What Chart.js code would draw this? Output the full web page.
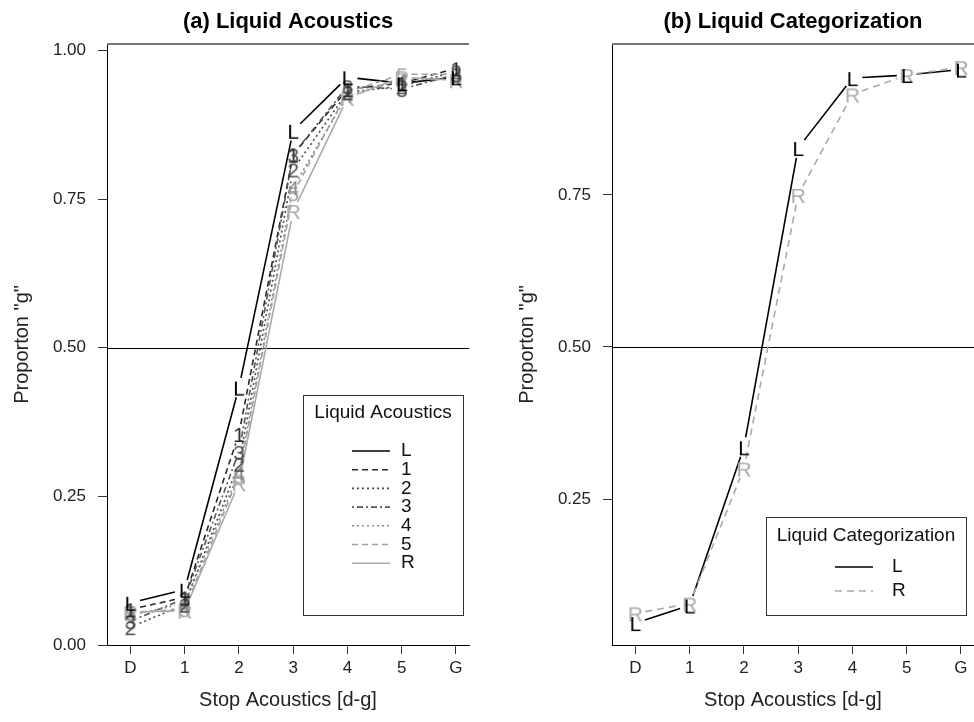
<!DOCTYPE html>
<html>
<head>
<meta charset="utf-8">
<script src="https://cdn.jsdelivr.net/npm/chart.js@4.4.0/dist/chart.umd.min.js"></script>
<style>
  body { margin: 0; background: #fff; width: 974px; height: 722px; overflow: hidden; position: relative; }
  .panel { position: absolute; top: 0; width: 480px; height: 722px; }
</style>
</head>
<body>
<div class="panel" style="left:0"><canvas id="chartA" width="480" height="722"></canvas></div>
<div class="panel" style="left:505px"><canvas id="chartB" width="480" height="722"></canvas></div>
<script>
// stop continuum (x axis)
const steps = ['D', '1', '2', '3', '4', '5', 'G'];

// (a) proportion "g" per liquid acoustics step
const acL = [0.071, 0.093, 0.433, 0.865, 0.955, 0.945, 0.955];
const ac1 = [0.060, 0.080, 0.355, 0.825, 0.935, 0.945, 0.970];
const ac2 = [0.030, 0.068, 0.305, 0.800, 0.930, 0.940, 0.965];
const ac3 = [0.040, 0.078, 0.325, 0.825, 0.940, 0.935, 0.960];
const ac4 = [0.050, 0.070, 0.290, 0.770, 0.925, 0.950, 0.955];
const ac5 = [0.055, 0.060, 0.285, 0.760, 0.930, 0.960, 0.960];
const acR = [0.055, 0.058, 0.272, 0.730, 0.920, 0.955, 0.950];

// (b) proportion "g" per liquid categorization
const catL = [0.046, 0.075, 0.335, 0.827, 0.942, 0.947, 0.956];
const catR = [0.062, 0.078, 0.300, 0.750, 0.915, 0.947, 0.960];

// y tick labels
const ticksA = [0, 0.25, 0.5, 0.75, 1];
const ticksB = [0.25, 0.5, 0.75];
const refLine = 0.5;

Chart.defaults.font.family = "'Liberation Sans', Arial, sans-serif";
Chart.defaults.color = '#222';

// draw the series character as the point symbol
function charPoint(ch, color) {
  const c = document.createElement('canvas');
  c.width = 24; c.height = 24;
  const g = c.getContext('2d');
  g.font = "21px 'Liberation Sans', Arial, sans-serif";
  g.fillStyle = color;
  g.textAlign = 'center';
  g.textBaseline = 'alphabetic';
  g.fillText(ch, 12, 19.5);
  return c;
}

function series(name, values, color, dash) {
  return {
    label: name,
    data: values.map((v, i) => ({ x: i, y: v })),
    borderColor: color,
    backgroundColor: color,
    lineDash: dash,
    showLine: false,
    pointStyle: charPoint(name, color),
    pointRadius: 10,
    pointHoverRadius: 10
  };
}

// lines between points, broken around the characters (like type="b")
const gappedLines = {
  id: 'gappedLines',
  beforeDatasetsDraw(chart) {
    const ctx = chart.ctx, a = chart.chartArea, gap = 10;
    ctx.save();
    ctx.beginPath();
    ctx.rect(a.left, a.top, a.right - a.left, a.bottom - a.top);
    ctx.clip();
    chart.data.datasets.forEach((ds, i) => {
      const pts = chart.getDatasetMeta(i).data;
      ctx.strokeStyle = ds.borderColor;
      ctx.lineWidth = 1.6;
      ctx.setLineDash(ds.lineDash);
      for (let k = 0; k < pts.length - 1; k++) {
        const p = pts[k], q = pts[k + 1];
        const dx = q.x - p.x, dy = q.y - p.y, len = Math.hypot(dx, dy);
        if (len <= 2 * gap) continue;
        const ux = dx / len, uy = dy / len;
        ctx.beginPath();
        ctx.moveTo(p.x + ux * gap, p.y + uy * gap);
        ctx.lineTo(q.x - ux * gap, q.y - uy * gap);
        ctx.stroke();
      }
    });
    ctx.restore();
  }
};

// panel title over the plot region, top frame line and the 0.5 reference line
const frame = {
  id: 'frame',
  beforeDatasetsDraw(chart, args, o) {
    const ctx = chart.ctx, a = chart.chartArea;
    const y5 = chart.scales.y.getPixelForValue(refLine);
    ctx.save();
    ctx.fillStyle = '#000';
    ctx.font = "bold 22px 'Liberation Sans', Arial, sans-serif";
    ctx.textAlign = 'center';
    ctx.textBaseline = 'middle';
    ctx.fillText(o.title, (a.left + a.right) / 2, 22);
    ctx.strokeStyle = '#777';
    ctx.lineWidth = 2;
    ctx.beginPath();
    ctx.moveTo(a.left, a.top);
    ctx.lineTo(a.right, a.top);
    ctx.stroke();
    ctx.strokeStyle = '#000';
    ctx.lineWidth = 1;
    ctx.beginPath();
    ctx.moveTo(a.left, Math.round(y5) + 0.5);
    ctx.lineTo(a.right, Math.round(y5) + 0.5);
    ctx.stroke();
    ctx.restore();
  }
};

// boxed legend inside the plot
const boxLegend = {
  id: 'boxLegend',
  afterDraw(chart, args, o) {
    const ctx = chart.ctx;
    ctx.save();
    ctx.strokeStyle = '#333';
    ctx.lineWidth = 1;
    ctx.strokeRect(o.x + 0.5, o.y + 0.5, o.w, o.h);
    ctx.fillStyle = '#111';
    ctx.font = "19px 'Liberation Sans', Arial, sans-serif";
    ctx.textAlign = 'center';
    ctx.textBaseline = 'middle';
    ctx.fillText(o.title, o.titleX, o.titleY);
    ctx.textAlign = 'left';
    chart.data.datasets.forEach((ds, i) => {
      const y = o.rowY + i * o.rowH;
      ctx.strokeStyle = ds.borderColor;
      ctx.lineWidth = 1.6;
      ctx.setLineDash(ds.lineDash);
      ctx.beginPath();
      ctx.moveTo(o.lineX0, y);
      ctx.lineTo(o.lineX1, y);
      ctx.stroke();
      ctx.setLineDash([]);
      ctx.fillStyle = '#111';
      ctx.fillText(ds.label, o.textX, y);
    });
    ctx.restore();
  }
};

function makeOptions(title, yTicks, yMin, yMax, legend) {
  return {
    responsive: false,
    animation: false,
    devicePixelRatio: 1,
    layout: { padding: { left: 0, right: 0, top: 44, bottom: 0 } },
    plugins: {
      legend: { display: false },
      tooltip: { enabled: false },
      title: { display: false },
      frame: { title: title },
      boxLegend: legend
    },
    scales: {
      x: {
        type: 'linear',
        min: -0.43,
        max: 6.24,
        afterFit: s => { s.height = 77; s.paddingLeft = 0; s.paddingRight = 0; },
        afterBuildTicks: s => { s.ticks = steps.map((t, i) => ({ value: i })); },
        ticks: { callback: v => steps[v], font: { size: 17 }, color: '#222', padding: 4, maxRotation: 0 },
        grid: { display: true, drawOnChartArea: false, drawTicks: true, tickLength: 9, color: '#333' },
        border: { display: true, color: '#000', width: 1 },
        title: { display: true, text: 'Stop Acoustics [d-g]', font: { size: 20 }, color: '#222', padding: { top: 0, bottom: 10 } }
      },
      y: {
        min: yMin,
        max: yMax,
        afterFit: s => { s.width = 107; s.paddingTop = 0; s.paddingBottom = 0; },
        afterBuildTicks: s => { s.ticks = yTicks.map(v => ({ value: v })); },
        ticks: { callback: v => v.toFixed(2), font: { size: 17 }, color: '#222', padding: 12 },
        grid: { display: true, drawOnChartArea: false, drawTicks: true, tickLength: 9, color: '#333' },
        border: { display: true, color: '#000', width: 1 },
        title: { display: true, text: 'Proporton "g"', font: { size: 20 }, color: '#222', padding: { top: 10, bottom: 0 } }
      }
    }
  };
}

new Chart(document.getElementById('chartA'), {
  type: 'line',
  data: {
    datasets: [
      series('L', acL, '#000000', []),
      series('1', ac1, '#2a2a2a', [6, 4]),
      series('2', ac2, '#4a4a4a', [2, 3]),
      series('3', ac3, '#555555', [2, 3, 6, 3]),
      series('4', ac4, '#888888', [2, 3]),
      series('5', ac5, '#a0a0a0', [6, 4]),
      series('R', acR, '#aaaaaa', [])
    ]
  },
  options: makeOptions('(a) Liquid Acoustics', ticksA, 0, 1.011, {
    x: 303, y: 395, w: 160, h: 220,
    title: 'Liquid Acoustics', titleX: 383, titleY: 413,
    rowY: 451, rowH: 18.7, lineX0: 352, lineX1: 390, textX: 401
  }),
  plugins: [frame, gappedLines, boxLegend]
});

new Chart(document.getElementById('chartB'), {
  type: 'line',
  data: {
    datasets: [
      series('L', catL, '#000000', []),
      series('R', catR, '#aaaaaa', [7, 5])
    ]
  },
  options: makeOptions('(b) Liquid Categorization', ticksB, 0.01, 0.998, {
    x: 261, y: 517, w: 200, h: 98,
    title: 'Liquid Categorization', titleX: 361, titleY: 536,
    rowY: 567, rowH: 24, lineX0: 330, lineX1: 368, textX: 387
  }),
  plugins: [frame, gappedLines, boxLegend]
});
</script>
</body>
</html>
